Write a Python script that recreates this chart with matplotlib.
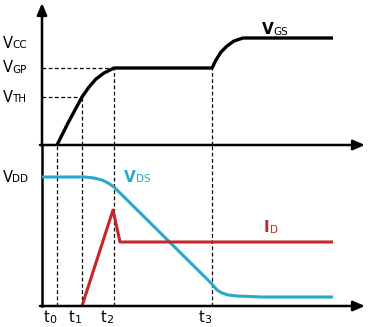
import matplotlib
matplotlib.use("Agg")
from matplotlib import pyplot as plt

plt.rcParams['font.family'] = ['DejaVu Sans']

# time marks (arbitrary units, origin on the vertical axis)
t_marks = [15, 40, 72, 170]
t_names = ['0', '1', '2', '3']
t_end = 323

# gate voltage levels (top panel)
V_TH = 48
V_GP = 77
V_CC = 102
top_max = 142

# VGS curve
vgs_t = [15, 20, 26, 33, 40, 47, 54, 62, 72, 170, 174, 179, 185, 192, 201, 291]
vgs_v = [0, 10, 22, 35, 48, 58, 66, 72, 77, 77, 85, 93, 99, 104, 107, 107]

# bottom panel levels
V_DD = 129
bot_max = 161

# VDS curve
vds_t = [0, 43, 52, 60, 66, 72, 170, 175, 180, 186, 195, 220, 291]
vds_v = [129, 129, 128, 126, 123, 119, 22, 16, 13, 11, 10, 9, 9]

# ID curve
id_t = [40, 71, 78, 291]
id_v = [0, 96, 64, 64]

black = '#000000'
cyan = '#2aa8cb'
red = '#c3262c'

fig = plt.figure(figsize=(3.71, 3.27), dpi=100)
left = 42 / 371
width = (365 - 42) / 371
ax1 = fig.add_axes([left, (327 - 145) / 327, width, 142 / 327])
ax2 = fig.add_axes([left, 21 / 327, width, 161 / 327])
for ax in (ax1, ax2):
    ax.set_xlim(0, t_end)
    ax.axis('off')
ax1.set_ylim(0, top_max)
ax2.set_ylim(0, bot_max)

arrow = dict(arrowstyle='-|>,head_length=0.7,head_width=0.3', color=black, lw=1.8,
             shrinkA=0, shrinkB=0)

# axes
ax1.annotate('', xy=(0, top_max), xytext=(0, -1), arrowprops=arrow, annotation_clip=False)
ax1.annotate('', xy=(t_end, 0), xytext=(-2, 0), arrowprops=arrow, annotation_clip=False)
ax2.plot([0, 0], [0, bot_max], color=black, lw=1.8, clip_on=False)
ax2.annotate('', xy=(t_end, 0), xytext=(-2, 0), arrowprops=arrow, annotation_clip=False)

# dashed guides
dash = dict(color=black, lw=0.9, ls=(0, (3, 2)), clip_on=False)
ax1.plot([0, t_marks[2]], [V_GP, V_GP], **dash)
ax1.plot([0, t_marks[1]], [V_TH, V_TH], **dash)
ax1.plot([t_marks[1], t_marks[1]], [0, V_TH], **dash)
ax1.plot([t_marks[2], t_marks[2]], [0, V_GP], **dash)
ax1.plot([t_marks[3], t_marks[3]], [0, V_GP], **dash)
for t in t_marks:
    ax2.plot([t, t], [0, bot_max], **dash)

# curves
ax1.plot(vgs_t, vgs_v, color=black, lw=2.4, solid_capstyle='butt', clip_on=False)
ax2.plot(vds_t, vds_v, color=cyan, lw=2.2, solid_capstyle='butt', clip_on=False)
ax2.plot(id_t, id_v, color=red, lw=2.2, solid_capstyle='butt', clip_on=False)


def sublabel(ax, x, y, dx, main, sub, color=black, size=10.5, subsize=7.5, bold=False, dy=0):
    w = 'bold' if bold else 'normal'
    m = ax.annotate(main, xy=(x, y), xycoords='data', xytext=(dx, dy),
                    textcoords='offset points', ha='left', va='center',
                    fontsize=size, color=color, fontweight=w, annotation_clip=False)
    ax.annotate(sub, xy=(1, 0.04), xycoords=m, ha='left', va='bottom',
                fontsize=subsize, color=color, fontweight='normal', annotation_clip=False)


# y labels
sublabel(ax1, 0, V_CC, -28.5, 'V', 'CC')
sublabel(ax1, 0, V_GP, -28.5, 'V', 'GP')
sublabel(ax1, 0, V_TH, -28.5, 'V', 'TH')
sublabel(ax2, 0, V_DD, -28.5, 'V', 'DD')

# time labels
for t, n in zip(t_marks, t_names):
    sublabel(ax2, t, 0, -9.5, 't', n, size=10.5, subsize=8, dy=-8.5)

# curve labels
sublabel(ax1, 220, 115, 0, 'V', 'GS', bold=True, size=11)
sublabel(ax2, 82, 129, 0, 'V', 'DS', color=cyan, bold=True, size=11)
sublabel(ax2, 222, 78, 0, 'I', 'D', color=red, bold=True, size=11)

fig.savefig('out.png', dpi=100)
